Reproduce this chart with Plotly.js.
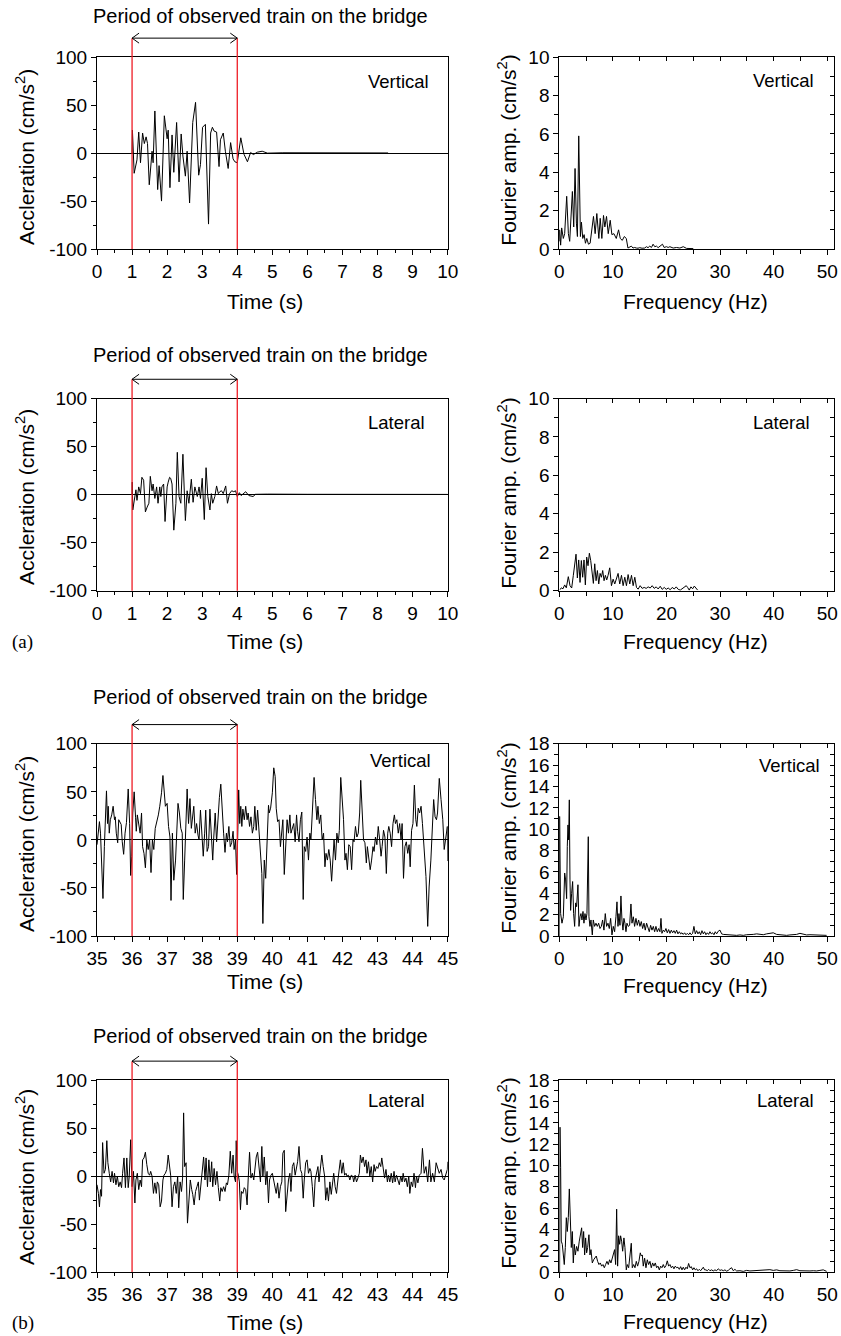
<!DOCTYPE html>
<html>
<head>
<meta charset="utf-8">
<script src="https://cdn.plot.ly/plotly-3.0.1.min.js"></script>
<style>html,body{margin:0;padding:0;background:#fff;}#chart{width:841px;height:1336px;}</style>
</head>
<body>
<div id="chart"></div>
<script>
// ---------------- DATA ----------------
// time windows when the observed train is on the bridge (s)
const windowA = [1, 4];
const windowB = [36, 39];
const arrowLevel = 120; // cm/s^2, level of the double arrow (above the axis)

// (a) acceleration time histories [time (s), acceleration (cm/s^2)]
const vertA = [[1.00,0],[1.01,24],[1.06,-21],[1.14,-7],[1.19,22],[1.24,-10],[1.30,21],[1.35,10],[1.40,17],[1.44,10],[1.49,-33],[1.57,2],[1.60,-10],[1.65,44],[1.73,-38],[1.77,-13],[1.84,-50],[1.92,39],[2.00,15],[2.03,24],[2.08,-36],[2.14,19],[2.19,-20],[2.27,32],[2.34,-30],[2.40,20],[2.45,-3],[2.52,-24],[2.57,2],[2.64,-52],[2.73,32],[2.81,53],[2.90,-23],[2.95,-12],[3.01,27],[3.09,30],[3.18,-74],[3.24,21],[3.29,27],[3.34,23],[3.41,22],[3.48,-14],[3.52,14],[3.60,21],[3.66,2],[3.70,-10],[3.74,-16],[3.81,11],[3.88,-6],[3.93,-9],[4.00,-10],[4.10,16],[4.19,-1],[4.29,-9],[4.38,0.7],[4.46,-1.5],[4.57,1],[4.71,2],[4.86,0],[5.3,0.4],[5.8,0.3],[6.3,0.4],[6.8,0.3],[7.3,0.4],[7.8,0.3],[8.3,0.2]];
const latA = [[1.00,0],[1.005,13],[1.02,-16],[1.07,-6],[1.11,5],[1.14,-6],[1.19,8],[1.24,1],[1.28,18],[1.33,15],[1.38,-18],[1.43,-13],[1.48,-9],[1.52,19],[1.57,4],[1.60,11],[1.65,-4],[1.70,8],[1.74,-9],[1.79,8],[1.82,-2],[1.85,8],[1.90,11],[1.94,-28],[2.00,8],[2.03,13],[2.07,18],[2.10,17],[2.14,11],[2.19,-37],[2.25,-9],[2.29,44],[2.34,-2],[2.39,-9],[2.45,42],[2.52,-27],[2.57,4],[2.62,-9],[2.69,16],[2.74,-8],[2.79,8],[2.86,-2],[2.91,8],[2.95,-4],[3.00,17],[3.06,-26],[3.11,28],[3.16,-2],[3.22,-16],[3.26,1],[3.30,-9],[3.36,-2],[3.41,9],[3.46,1],[3.50,3],[3.55,4],[3.60,1],[3.67,9],[3.72,-9],[3.78,1],[3.84,4],[3.90,3],[3.95,4],[4.00,-2],[4.06,2],[4.11,-1],[4.17,1],[4.24,3],[4.33,-1],[4.45,-2],[4.52,0.3],[4.67,0.4],[4.86,0.5],[6,0.3],[8,0.2],[10,0.2]];

// (b) acceleration time histories
const vertB = [[35.00,-5],[35.07,19],[35.10,7],[35.14,-33],[35.17,-61],[35.21,-7],[35.24,17],[35.27,51],[35.30,17],[35.32,35],[35.35,7],[35.38,21],[35.42,26],[35.46,35],[35.50,21],[35.52,24],[35.55,7],[35.59,-3],[35.62,21],[35.65,18],[35.69,16],[35.72,-2],[35.76,-15],[35.80,7],[35.84,18],[35.89,53],[35.93,17],[35.96,-37],[35.99,-17],[36.02,28],[36.06,50],[36.10,23],[36.12,9],[36.15,26],[36.19,14],[36.23,7],[36.27,28],[36.30,-7],[36.34,-14],[36.38,-29],[36.42,0],[36.46,-10],[36.50,0],[36.54,-34],[36.58,0],[36.62,-10],[36.66,12],[36.70,17],[36.75,26],[36.79,35],[36.84,49],[36.88,67],[36.91,49],[36.95,35],[37.00,38],[37.04,14],[37.08,3],[37.11,-63],[37.15,7],[37.19,-42],[37.24,-21],[37.28,7],[37.31,38],[37.35,28],[37.39,12],[37.43,7],[37.46,-62],[37.50,-21],[37.53,7],[37.57,53],[37.61,17],[37.65,43],[37.69,12],[37.72,24],[37.76,35],[37.80,7],[37.84,17],[37.88,5],[37.91,0],[37.95,31],[37.99,7],[38.03,-17],[38.07,7],[38.10,31],[38.14,-12],[38.18,-7],[38.22,32],[38.26,7],[38.30,-21],[38.33,3],[38.37,28],[38.41,-2],[38.45,24],[38.49,44],[38.53,58],[38.57,24],[38.61,7],[38.65,-13],[38.69,7],[38.72,-2],[38.76,14],[38.80,-7],[38.84,-3],[38.88,9],[38.91,-10],[38.95,0],[38.98,-36],[39.01,0],[39.04,52],[39.07,17],[39.10,35],[39.13,14],[39.16,32],[39.20,21],[39.24,35],[39.28,21],[39.31,28],[39.35,14],[39.39,24],[39.43,7],[39.47,14],[39.50,35],[39.54,10],[39.58,31],[39.62,10],[39.66,-12],[39.70,-35],[39.73,-87],[39.77,-21],[39.81,-40],[39.85,0],[39.89,36],[39.91,28],[39.95,33],[40.00,49],[40.04,75],[40.08,66],[40.11,33],[40.15,19],[40.19,21],[40.23,-7],[40.27,10],[40.30,21],[40.34,-36],[40.38,-7],[40.42,21],[40.46,7],[40.50,26],[40.53,7],[40.57,12],[40.61,17],[40.65,-2],[40.69,26],[40.72,9],[40.76,-2],[40.80,21],[40.84,29],[40.88,-62],[40.91,-7],[40.95,-12],[40.99,3],[41.03,-21],[41.07,7],[41.10,0],[41.15,42],[41.19,65],[41.23,42],[41.27,21],[41.30,35],[41.34,17],[41.38,26],[41.42,0],[41.46,7],[41.50,-28],[41.53,-14],[41.57,-21],[41.61,-10],[41.65,-21],[41.69,-43],[41.72,-21],[41.76,0],[41.80,-21],[41.84,7],[41.88,-3],[41.91,10],[41.95,65],[41.99,42],[42.03,21],[42.07,-21],[42.10,-14],[42.14,-31],[42.18,-5],[42.22,-7],[42.26,-31],[42.30,0],[42.33,-2],[42.37,14],[42.41,3],[42.45,7],[42.49,28],[42.52,62],[42.56,28],[42.60,0],[42.64,-3],[42.68,-24],[42.71,-7],[42.75,-21],[42.79,-31],[42.83,-21],[42.87,-7],[42.90,-12],[42.94,3],[42.98,-5],[43.02,14],[43.06,0],[43.10,-17],[43.13,-7],[43.17,10],[43.21,3],[43.25,-35],[43.29,7],[43.32,14],[43.36,7],[43.40,-7],[43.44,17],[43.48,26],[43.51,17],[43.55,21],[43.59,7],[43.63,17],[43.67,0],[43.70,17],[43.74,-40],[43.78,-7],[43.82,-2],[43.86,-14],[43.90,-5],[43.93,-28],[43.97,10],[44.01,17],[44.05,57],[44.09,21],[44.12,14],[44.16,33],[44.20,28],[44.24,35],[44.28,17],[44.33,-14],[44.38,-38],[44.43,-90],[44.47,-49],[44.52,-21],[44.57,14],[44.60,42],[44.64,24],[44.68,21],[44.71,28],[44.76,64],[44.81,42],[44.86,21],[44.90,-10],[44.93,0],[44.96,10],[44.99,14],[45.00,-22]];
const latB = [[35.00,-9],[35.04,-18],[35.07,-32],[35.10,-14],[35.13,-21],[35.16,35],[35.20,3],[35.24,7],[35.28,37],[35.31,14],[35.35,3],[35.39,-6],[35.43,5],[35.47,-7],[35.50,3],[35.54,-9],[35.58,0],[35.62,-11],[35.66,-6],[35.70,-12],[35.73,3],[35.77,19],[35.81,-12],[35.85,19],[35.89,-12],[35.92,0],[35.96,38],[36.00,-11],[36.04,5],[36.08,-28],[36.11,-4],[36.15,3],[36.19,-14],[36.23,-4],[36.27,-11],[36.30,17],[36.34,19],[36.38,25],[36.42,12],[36.46,3],[36.50,1],[36.53,5],[36.57,0],[36.61,-18],[36.65,-7],[36.69,-18],[36.72,-6],[36.76,-9],[36.80,-32],[36.84,-26],[36.88,-4],[36.91,1],[36.95,3],[36.99,7],[37.03,22],[37.07,10],[37.10,1],[37.14,-32],[37.18,-11],[37.22,-6],[37.26,-18],[37.30,0],[37.33,-33],[37.37,-6],[37.41,-16],[37.44,-2],[37.47,66],[37.50,10],[37.54,14],[37.58,-49],[37.62,-25],[37.66,-4],[37.70,-14],[37.73,-19],[37.77,-30],[37.81,-16],[37.85,-11],[37.89,-6],[37.92,-25],[37.96,-11],[38.00,10],[38.04,20],[38.08,-4],[38.11,19],[38.15,-11],[38.19,17],[38.23,-6],[38.27,15],[38.30,-11],[38.34,8],[38.38,-9],[38.42,5],[38.46,-12],[38.50,-26],[38.53,-12],[38.57,-16],[38.61,-11],[38.65,-16],[38.69,-7],[38.72,-9],[38.76,1],[38.80,26],[38.84,3],[38.88,22],[38.91,0],[38.95,-6],[38.97,37],[39.00,5],[39.03,1],[39.06,-6],[39.09,-35],[39.12,-16],[39.16,-18],[39.20,-12],[39.24,-14],[39.28,-30],[39.31,-4],[39.35,25],[39.39,-2],[39.43,3],[39.47,-4],[39.50,5],[39.54,20],[39.58,25],[39.62,5],[39.66,-6],[39.70,31],[39.73,0],[39.77,20],[39.81,-9],[39.85,5],[39.89,-28],[39.92,-4],[39.96,1],[40.00,3],[40.04,-4],[40.08,-11],[40.11,-18],[40.15,-7],[40.19,-23],[40.23,-11],[40.27,-6],[40.30,24],[40.34,27],[40.38,-37],[40.42,-18],[40.46,-4],[40.50,3],[40.53,-16],[40.57,10],[40.61,14],[40.65,1],[40.69,10],[40.72,15],[40.76,31],[40.80,7],[40.84,3],[40.88,-23],[40.91,-4],[40.95,14],[40.99,17],[41.03,3],[41.07,8],[41.10,5],[41.14,-11],[41.18,-32],[41.22,-4],[41.26,3],[41.30,10],[41.33,-6],[41.37,7],[41.41,22],[41.45,10],[41.49,0],[41.52,-25],[41.56,-12],[41.60,-26],[41.64,-6],[41.68,-19],[41.71,-11],[41.75,3],[41.79,-11],[41.83,-18],[41.87,-4],[41.90,3],[41.94,17],[41.98,3],[42.02,14],[42.06,1],[42.10,3],[42.13,0],[42.17,1],[42.21,-4],[42.25,1],[42.29,0],[42.32,-6],[42.36,1],[42.40,-6],[42.44,-2],[42.48,3],[42.51,22],[42.55,14],[42.59,20],[42.63,10],[42.67,17],[42.70,3],[42.74,15],[42.78,0],[42.82,10],[42.86,-6],[42.90,12],[42.93,5],[42.97,10],[43.01,8],[43.05,14],[43.09,10],[43.12,19],[43.16,7],[43.20,-2],[43.24,7],[43.28,-6],[43.31,1],[43.35,-6],[43.39,3],[43.43,-7],[43.47,5],[43.50,-6],[43.54,1],[43.58,-4],[43.62,-9],[43.66,0],[43.70,-6],[43.73,3],[43.77,-6],[43.81,-2],[43.85,-11],[43.89,0],[43.92,-18],[43.96,-6],[44.00,-11],[44.04,3],[44.08,-12],[44.11,0],[44.15,-7],[44.19,1],[44.24,3],[44.28,29],[44.33,3],[44.38,10],[44.43,-6],[44.48,17],[44.52,-6],[44.57,3],[44.62,-6],[44.67,14],[44.71,10],[44.76,3],[44.81,7],[44.86,-2],[44.90,-4],[44.95,1],[44.99,7],[45.00,15]];

// Fourier amplitude spectra [frequency (Hz), amplitude (cm/s^2)]
const specVertA = [[0,0.4],[0.06,1.0],[0.25,0.2],[0.44,1.1],[0.75,0.55],[1.0,0.8],[1.38,2.75],[1.69,0.8],[1.94,0.4],[2.44,3.0],[2.69,1.15],[2.94,4.2],[3.19,1.35],[3.38,0.65],[3.63,5.9],[3.94,0.65],[4.13,1.4],[4.38,0.55],[4.63,0.75],[4.88,0.3],[5.13,0.55],[5.44,0.25],[5.75,0.3],[6.0,0.9],[6.38,1.7],[6.69,0.8],[7.0,1.85],[7.38,0.55],[7.63,1.6],[7.94,0.55],[8.25,1.75],[8.5,1.15],[8.81,1.7],[9.13,0.8],[9.5,1.5],[9.81,0.75],[10.19,0.8],[10.63,0.55],[11.06,1.0],[11.38,0.55],[11.75,0.45],[12.13,0.65],[12.5,0.55],[12.81,0.05],[13.13,0.1],[13.44,0.15],[13.75,0.05],[14.06,0.08],[14.38,0.05],[14.69,0.04],[15.0,0.07],[15.44,0.04],[15.94,0.05],[16.25,0.12],[16.56,0.07],[16.88,0.15],[17.19,0.08],[17.5,0.25],[17.81,0.12],[18.13,0.15],[18.44,0.07],[18.75,0.15],[19.25,0.25],[19.56,0.08],[20.0,0.12],[20.31,0.08],[20.63,0.12],[21.25,0.05],[21.88,0.08],[22.5,0.05],[23.13,0.12],[23.75,0.03],[25.0,0.02]];
const specLatA = [[0.12,0.05],[0.37,0.15],[0.69,0.1],[1.0,0.3],[1.31,0.15],[1.68,0.73],[2.0,0.26],[2.31,0.14],[2.62,0.8],[2.87,1.4],[3.12,1.9],[3.37,0.66],[3.62,1.6],[3.87,0.43],[4.11,1.57],[4.36,0.7],[4.61,1.6],[4.86,0.3],[5.11,1.75],[5.36,1.3],[5.61,1.95],[5.86,1.57],[6.11,1.05],[6.36,0.38],[6.61,1.4],[6.86,0.52],[7.11,1.05],[7.36,0.35],[7.61,0.9],[7.86,0.7],[8.1,1.05],[8.35,0.52],[8.6,0.8],[8.85,0.56],[9.1,0.8],[9.41,1.19],[9.73,0.26],[10.04,0.6],[10.35,0.35],[10.66,0.7],[10.97,0.9],[11.28,0.35],[11.6,0.8],[11.91,0.26],[12.22,0.7],[12.53,0.26],[12.84,0.84],[13.15,0.35],[13.47,0.8],[13.78,0.26],[14.09,0.7],[14.4,0.17],[14.71,0.08],[15.09,0.26],[15.46,0.12],[15.84,0.17],[16.21,0.12],[16.58,0.2],[16.96,0.14],[17.33,0.26],[17.71,0.12],[18.08,0.2],[18.45,0.09],[18.83,0.23],[19.2,0.07],[19.58,0.17],[19.95,0.07],[20.32,0.14],[20.7,0.05],[21.07,0.17],[21.45,0.09],[21.82,0.2],[22.19,0.07],[22.57,0.03],[22.94,0.1],[23.32,0.17],[23.69,0.26],[23.94,0.17],[24.25,0.03],[24.56,0.2],[24.88,0.1],[25.19,0.24],[25.5,0.14],[25.81,0.03]];
const specVertB = [[0,0],[0.06,11.2],[0.25,2.1],[0.5,1.2],[0.75,1.8],[1.0,5.9],[1.18,5.25],[1.37,3.5],[1.49,8.4],[1.62,10.4],[1.74,9.0],[1.87,12.75],[1.99,5.25],[2.11,2.4],[2.3,4.0],[2.49,5.1],[2.67,2.1],[2.86,0.9],[3.05,3.1],[3.23,2.75],[3.48,4.8],[3.67,0.9],[3.86,1.8],[4.04,2.1],[4.23,1.5],[4.42,2.3],[4.6,1.2],[4.79,2.1],[4.98,1.5],[5.16,2.1],[5.41,9.3],[5.53,1.8],[5.72,0.9],[5.91,1.5],[6.16,0.1],[6.34,1.5],[6.59,0.9],[6.84,1.2],[7.09,0.9],[7.34,1.2],[7.59,0.7],[7.84,0.9],[8.08,1.5],[8.33,0.55],[8.58,2.1],[8.83,0.9],[9.08,1.2],[9.33,0.7],[9.58,1.65],[9.83,0.1],[10.07,0.9],[10.32,0.4],[10.57,1.8],[10.76,3.2],[10.95,0.9],[11.13,2.1],[11.32,1.0],[11.5,3.75],[11.69,1.5],[11.88,0.55],[12.06,1.65],[12.25,1.2],[12.44,0.4],[12.62,1.2],[12.87,0.9],[13.12,1.0],[13.37,3.0],[13.56,1.2],[13.81,1.8],[14.05,0.9],[14.3,1.65],[14.55,1.0],[14.8,1.5],[15.05,0.9],[15.3,1.35],[15.55,0.7],[15.8,1.2],[16.04,0.55],[16.29,1.2],[16.54,0.7],[16.79,0.4],[17.04,1.0],[17.29,0.55],[17.54,0.9],[17.79,0.4],[18.03,0.9],[18.28,0.4],[18.53,0.7],[18.78,0.4],[18.97,1.65],[19.15,0.25],[19.4,0.55],[19.65,0.4],[19.9,0.7],[20.15,0.3],[20.4,0.6],[20.65,0.25],[20.9,0.55],[21.14,0.3],[21.39,0.5],[21.64,0.25],[21.89,0.55],[22.14,0.2],[22.39,0.4],[22.64,0.2],[22.89,0.3],[23.13,0.15],[23.38,0.3],[23.63,0.12],[23.88,0.25],[24.13,0.12],[24.38,0.3],[24.63,0.12],[24.88,0.25],[25.12,0.9],[25.37,0.2],[25.62,0.5],[25.87,0.2],[26.12,0.4],[26.37,0.12],[26.62,0.5],[26.87,0.2],[27.11,0.4],[27.36,0.12],[27.61,0.3],[27.86,0.15],[28.11,0.4],[28.36,0.2],[28.61,0.3],[28.86,0.12],[29.1,0.4],[29.35,0.2],[29.66,0.45],[29.98,0.55],[30.29,0.2],[30.6,0.15],[31.22,0.12],[31.84,0.1],[32.46,0.12],[33.08,0.06],[33.71,0.1],[34.33,0.06],[34.95,0.12],[35.57,0.1],[36.19,0.15],[36.82,0.2],[37.44,0.15],[38.06,0.12],[38.68,0.2],[39.3,0.22],[39.93,0.3],[40.55,0.15],[41.17,0.1],[41.79,0.12],[42.41,0.06],[43.03,0.1],[43.66,0.12],[44.28,0.15],[44.9,0.25],[45.52,0.15],[46.14,0.1],[46.77,0.12],[47.39,0.1],[48.01,0.12],[48.63,0.1],[49.25,0.06],[49.88,0.06]];
const specLatB = [[0.06,0],[0.12,13.6],[0.25,9.8],[0.37,2.9],[0.56,2.6],[0.75,1.3],[0.93,0.7],[1.12,2.3],[1.31,5.1],[1.49,3.8],[1.68,5.1],[1.87,7.8],[2.05,3.5],[2.24,2.3],[2.43,3.8],[2.61,0.85],[2.8,2.6],[2.99,1.6],[3.23,2.4],[3.48,1.95],[3.73,2.9],[3.98,3.8],[4.17,4.15],[4.35,2.3],[4.54,3.8],[4.73,1.6],[4.91,3.2],[5.1,1.8],[5.29,2.3],[5.53,3.5],[5.72,1.6],[5.91,2.1],[6.16,0.85],[6.41,1.15],[6.65,1.3],[6.9,1.5],[7.15,1.0],[7.4,0.7],[7.65,0.85],[7.9,0.55],[8.15,0.7],[8.4,0.4],[8.64,0.7],[8.89,1.0],[9.14,0.7],[9.39,1.15],[9.64,0.85],[9.89,1.3],[10.14,1.95],[10.32,2.1],[10.51,0.7],[10.7,5.9],[10.88,0.55],[11.07,3.4],[11.26,2.6],[11.44,3.4],[11.63,2.9],[11.82,1.95],[12.06,3.2],[12.25,2.3],[12.5,0.2],[12.69,0.7],[12.94,0.4],[13.18,1.3],[13.43,2.7],[13.62,0.4],[13.87,0.7],[14.12,0.4],[14.37,1.0],[14.61,0.55],[14.86,1.0],[15.11,1.8],[15.3,1.5],[15.49,1.6],[15.67,0.55],[15.92,1.3],[16.17,0.4],[16.42,1.15],[16.67,0.7],[16.92,1.0],[17.16,0.4],[17.41,0.85],[17.66,0.55],[17.91,0.85],[18.16,0.4],[18.41,0.55],[18.66,0.2],[18.91,0.55],[19.15,0.4],[19.4,0.7],[19.65,0.4],[19.9,0.6],[20.15,1.05],[20.4,0.55],[20.65,0.7],[20.9,0.4],[21.14,0.55],[21.39,0.3],[21.64,0.55],[21.89,0.4],[22.14,0.45],[22.39,0.25],[22.64,0.5],[22.89,0.2],[23.13,0.45],[23.38,0.2],[23.63,0.45],[23.88,0.3],[24.13,0.8],[24.38,0.4],[24.63,0.5],[24.88,0.2],[25.12,0.4],[25.37,0.2],[25.62,0.3],[25.87,0.12],[26.12,0.25],[26.37,0.12],[26.62,0.3],[26.87,0.45],[27.11,0.2],[27.36,0.2],[27.61,0.12],[27.86,0.25],[28.11,0.12],[28.42,0.2],[28.73,0.1],[29.04,0.2],[29.35,0.12],[29.66,0.3],[29.98,0.15],[30.29,0.2],[30.6,0.12],[30.91,0.2],[31.22,0.08],[31.53,0.15],[31.84,0.3],[32.15,0.4],[32.46,0.12],[32.77,0.25],[33.08,0.1],[33.71,0.12],[34.33,0.06],[34.95,0.15],[35.57,0.1],[36.19,0.12],[36.82,0.1],[37.44,0.12],[38.06,0.15],[38.68,0.2],[39.3,0.22],[39.93,0.15],[40.55,0.2],[41.17,0.12],[41.79,0.1],[42.41,0.12],[43.03,0.1],[43.66,0.15],[44.28,0.22],[44.9,0.12],[45.52,0.1],[46.14,0.12],[46.77,0.1],[47.39,0.12],[48.01,0.1],[48.63,0.15],[49.25,0.2],[49.88,0.06]];

// axis ranges / tick labels / titles
const timeRangeA = [0, 10];
const timeRangeB = [35, 45];
const accRange = [-100, 100];
const accTickVals = [-100, -50, 0, 50, 100];
const accTickText = ['-100', '-50', '0', '50', '100'];
const freqRange = [0, 51.2];
const ampRangeA = [0, 10];
const ampRangeB = [0, 18];
const periodTitle = 'Period of observed train on the bridge';
const accTitle = 'Accleration (cm/s<sup>2</sup>)';
const ampTitle = 'Fourier amp. (cm/s<sup>2</sup>)';
const timeTitle = 'Time (s)';
const freqTitle = 'Frequency (Hz)';

// ---------------- LAYOUT ----------------
const W = 841, H = 1336;
const FONT = 'Liberation Sans, Arial, Helvetica, sans-serif';
const px2x = v => v / W;
const px2y = v => 1 - v / H;

const leftX = [px2x(97), px2x(447.7)];
const rightX = [px2x(559.3), px2x(833.7)];

const rows = [
  {top: 57.3, bot: 249, trange: timeRangeA, win: windowA, acc: vertA, spec: specVertA, amp: ampRangeA, label: 'Vertical',
   titleY: 16, labL: [366, 81.7], labR: [751, 80], xtL: 301.7, xtR: 301.7, ytL: 157, ytR: 150},
  {top: 398.5, bot: 590.7, trange: timeRangeA, win: windowA, acc: latA, spec: specLatA, amp: ampRangeA, label: 'Lateral',
   titleY: 355, labL: [366, 422.7], labR: [751, 422.7], xtL: 641.7, xtR: 641.7, ytL: 497, ytR: 493},
  {top: 743.8, bot: 936, trange: timeRangeB, win: windowB, acc: vertB, spec: specVertB, amp: ampRangeB, label: 'Vertical',
   titleY: 697, labL: [368, 760.7], labR: [757, 765], xtL: 981.7, xtR: 985, ytL: 844, ytR: 838},
  {top: 1080.3, bot: 1272, trange: timeRangeB, win: windowB, acc: latB, spec: specLatB, amp: ampRangeB, label: 'Lateral',
   titleY: 1036, labL: [366, 1100.7], labR: [755, 1100.7], xtL: 1322.7, xtR: 1321.7, ytL: 1177, ytR: 1173}
];

const baseAxis = {
  showgrid: false, zeroline: false, showline: true, linecolor: '#000', linewidth: 1,
  ticks: 'outside', ticklen: 5, tickwidth: 1, tickcolor: '#000',
  tickfont: {family: FONT, size: 19, color: '#000'}, fixedrange: true
};

const layout = {
  width: W, height: H, margin: {l: 0, r: 0, t: 0, b: 0},
  paper_bgcolor: '#fff', plot_bgcolor: '#fff', showlegend: false,
  font: {family: FONT, color: '#000'},
  shapes: [], annotations: []
};
const traces = [];

function ann(text, x, y, xanchor, size, extra) {
  return Object.assign({xref: 'paper', yref: 'paper', x: px2x(x), y: px2y(y), text: text, showarrow: false,
    xanchor: xanchor, yanchor: 'middle', font: {family: FONT, size: size, color: '#000'}}, extra || {});
}

rows.forEach((r, i) => {
  const yd = [px2y(r.bot), px2y(r.top)];
  const L = 2 * i + 1, R = 2 * i + 2, O = 9 + i;
  // left: acceleration
  layout['xaxis' + L] = Object.assign({}, baseAxis, {domain: leftX, anchor: 'y' + L, range: r.trange, dtick: 1, tick0: 0,
    mirror: true, minor: {dtick: 0.5, ticks: 'outside', ticklen: 3, tickcolor: '#000', tickwidth: 1}});
  layout['yaxis' + L] = Object.assign({}, baseAxis, {domain: yd, anchor: 'x' + L, range: accRange,
    tickmode: 'array', tickvals: accTickVals, ticktext: accTickText,
    mirror: true, zeroline: true, zerolinecolor: '#000', zerolinewidth: 1,
    minor: {dtick: 25, tick0: 0, ticks: 'outside', ticklen: 3, tickcolor: '#000', tickwidth: 1}});
  // right: spectrum
  layout['xaxis' + R] = Object.assign({}, baseAxis, {domain: rightX, anchor: 'y' + R, range: freqRange, dtick: 10, tick0: 0,
    mirror: true, minor: {dtick: 5, ticks: 'outside', ticklen: 4, tickcolor: '#000', tickwidth: 1}});
  layout['yaxis' + R] = Object.assign({}, baseAxis, {domain: yd, anchor: 'x' + R, range: r.amp, dtick: 2, tick0: 0,
    mirror: true, minor: {dtick: 1, ticks: 'outside', ticklen: 4, tickcolor: '#000', tickwidth: 1}});
  // overlay axes for the inside ticks on top/right of the spectrum frames
  layout['xaxis' + O] = {overlaying: 'x' + R, side: 'top', anchor: 'y' + O, range: freqRange, dtick: 5, tick0: 0,
    ticks: 'inside', ticklen: 4, tickcolor: '#000', tickwidth: 1, showticklabels: false, showline: false,
    showgrid: false, zeroline: false, fixedrange: true};
  layout['yaxis' + O] = {overlaying: 'y' + R, side: 'right', anchor: 'x' + O, range: r.amp, dtick: 1, tick0: 0,
    ticks: 'inside', ticklen: 4, tickcolor: '#000', tickwidth: 1, showticklabels: false, showline: false,
    showgrid: false, zeroline: false, fixedrange: true};

  traces.push({type: 'scatter', mode: 'lines', x: r.acc.map(p => p[0]), y: r.acc.map(p => p[1]),
    xaxis: 'x' + L, yaxis: 'y' + L, line: {color: '#000', width: 1}, hoverinfo: 'skip'});
  traces.push({type: 'scatter', mode: 'lines', x: r.spec.map(p => p[0]), y: r.spec.map(p => p[1]),
    xaxis: 'x' + R, yaxis: 'y' + R, line: {color: '#000', width: 1}, hoverinfo: 'skip'});
  traces.push({type: 'scatter', mode: 'lines', x: [], y: [], xaxis: 'x' + O, yaxis: 'y' + O, hoverinfo: 'skip'});

  // window lines and arrow
  const yPaper = v => yd[0] + (v - accRange[0]) / (accRange[1] - accRange[0]) * (yd[1] - yd[0]);
  const yArr = yPaper(arrowLevel);
  r.win.forEach(t => {
    layout.shapes.push({type: 'line', xref: 'x' + L, yref: 'paper', x0: t, x1: t, y0: yd[0], y1: yArr,
      line: {color: '#ee1c25', width: 1.3}, layer: 'above'});
  });
  layout.shapes.push({type: 'line', xref: 'x' + L, yref: 'paper', x0: r.win[0], x1: r.win[1], y0: yArr, y1: yArr,
    line: {color: '#000', width: 1}, layer: 'above'});
  [[r.win[0], 1], [r.win[1], -1]].forEach(([t, dir]) => {
    [1, -1].forEach(s => {
      layout.shapes.push({type: 'line', xref: 'x' + L, xsizemode: 'pixel', xanchor: t, x0: 0, x1: 7 * dir,
        yref: 'paper', ysizemode: 'pixel', yanchor: yArr, y0: 0, y1: 5 * s,
        line: {color: '#000', width: 1}, layer: 'above'});
    });
  });

  // texts
  layout.annotations.push(ann(periodTitle, 91, r.titleY, 'left', 20));
  layout.annotations.push(ann(r.label, r.labL[0], r.labL[1], 'left', 18.5));
  layout.annotations.push(ann(r.label, r.labR[0], r.labR[1], 'left', 18.5));
  layout.annotations.push(ann(timeTitle, 265, r.xtL, 'center', 21));
  layout.annotations.push(ann(freqTitle, 695, r.xtR, 'center', 21));
  layout.annotations.push(ann(accTitle, 25, r.ytL, 'center', 21, {textangle: -90}));
  layout.annotations.push(ann(ampTitle, 506.7, r.ytR, 'center', 21, {textangle: -90}));
});

layout.annotations.push(ann('(a)', 10, 641.7, 'left', 19, {font: {family: 'Liberation Serif, Times New Roman, serif', size: 19, color: '#000'}}));
layout.annotations.push(ann('(b)', 10, 1322.7, 'left', 19, {font: {family: 'Liberation Serif, Times New Roman, serif', size: 19, color: '#000'}}));

Plotly.newPlot('chart', traces, layout, {staticPlot: true, displayModeBar: false});
</script>
</body>
</html>
